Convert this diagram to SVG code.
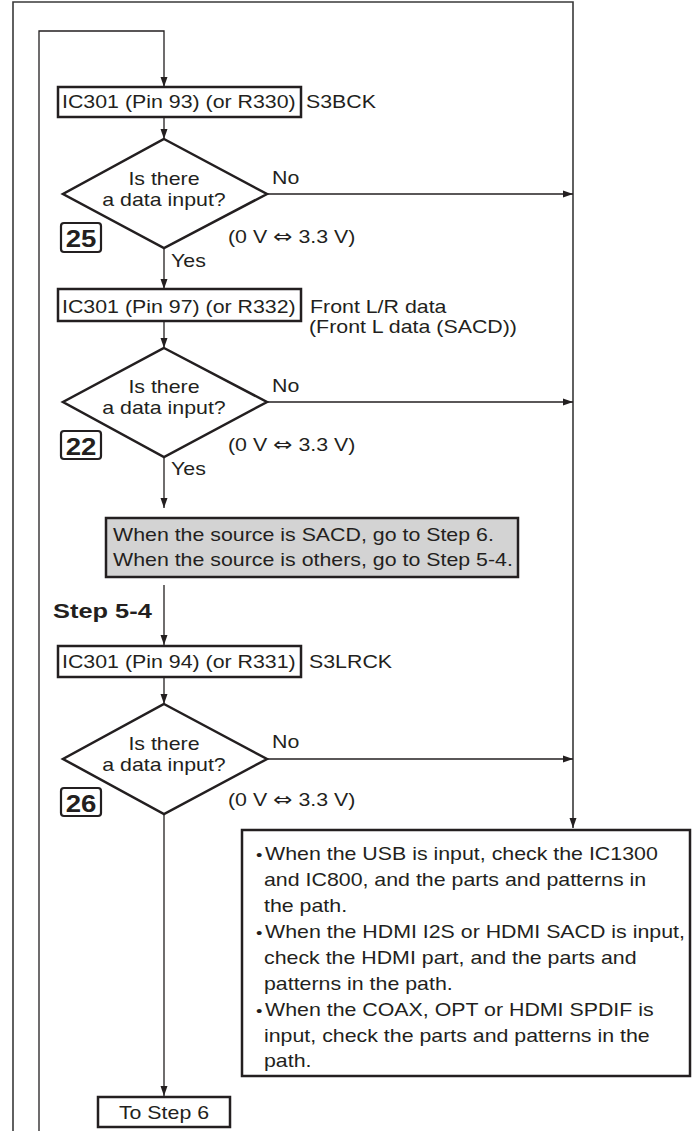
<svg xmlns="http://www.w3.org/2000/svg" width="697" height="1131" viewBox="0 0 697 1131">
<style>
.t{font-family:"Liberation Sans",Arial,sans-serif;font-size:17.5px;fill:#231f20}
.m{text-anchor:middle}
.b{font-weight:bold}
.sym{font-family:"DejaVu Sans",sans-serif;font-size:19px}
.bul{font-size:15px}
.n{font-family:"Liberation Sans",Arial,sans-serif;font-size:23px;font-weight:bold;fill:#231f20;text-anchor:middle}
.box{fill:#fff;stroke:#231f20;stroke-width:2.5}
.gray{fill:#d3d3d3;stroke:#231f20;stroke-width:2.5}
.dia{fill:#fff;stroke:#231f20;stroke-width:2.5;stroke-linejoin:miter}
.nb{fill:#fff;stroke:#231f20;stroke-width:2.2}
.c{fill:none;stroke:#231f20;stroke-width:1.3}
.fr{fill:none;stroke:#3a3a3a;stroke-width:1.6}
</style>
<defs>
<marker id="ah" markerUnits="userSpaceOnUse" markerWidth="11" markerHeight="8" refX="10" refY="4" orient="auto">
<path d="M0,0.5 L10,4 L0,7.5 z" fill="#231f20"/>
</marker>
</defs>

<g id="connectors">
<path class="fr" d="M13,1131 V2 H573 V828" marker-end="url(#ah)"/>
<path class="c" d="M39,1131 V31 H164 V87" marker-end="url(#ah)"/>
<path class="c" d="M164,117 V139" marker-end="url(#ah)"/>
<path class="c" d="M267,194 H573" marker-end="url(#ah)"/>
<path class="c" d="M164,248 V289" marker-end="url(#ah)"/>
<path class="c" d="M164,321 V348" marker-end="url(#ah)"/>
<path class="c" d="M267,402 H573" marker-end="url(#ah)"/>
<path class="c" d="M164,457 V508" marker-end="url(#ah)"/>
<path class="c" d="M164,585 V645" marker-end="url(#ah)"/>
<path class="c" d="M164,677 V704" marker-end="url(#ah)"/>
<path class="c" d="M267,759 H573" marker-end="url(#ah)"/>
<path class="c" d="M164,814 V1096" marker-end="url(#ah)"/>
</g>

<g id="box1">
<rect class="box" x="58" y="87" width="243" height="30"/>
<text class="t" transform="translate(62 108) scale(1.22 1)">IC301 (Pin 93) (or R330)</text>
<text class="t" transform="translate(306 108) scale(1.22 1)">S3BCK</text>
</g>

<g id="dec1">
<polygon class="dia" points="164,139 267,194 164,248 63,194"/>
<text class="t m" transform="translate(164 185) scale(1.22 1)">Is there</text>
<text class="t m" transform="translate(164 206) scale(1.22 1)">a data input?</text>
<text class="t" transform="translate(272 184) scale(1.22 1)">No</text>
<text class="t" transform="translate(228 243) scale(1.22 1)">(0 V <tspan class="sym">⇔</tspan> 3.3 V)</text>
<text class="t" transform="translate(171 267) scale(1.22 1)">Yes</text>
<rect class="nb" x="61" y="223" width="40" height="29" rx="3"/>
<text class="n" transform="translate(81 247) scale(1.2 1)">25</text>
</g>

<g id="box2">
<rect class="box" x="58" y="289" width="243" height="32"/>
<text class="t" transform="translate(62 313) scale(1.22 1)">IC301 (Pin 97) (or R332)</text>
<text class="t" transform="translate(310 313) scale(1.22 1)">Front L/R data</text>
<text class="t" transform="translate(309 333) scale(1.22 1)">(Front L data (SACD))</text>
</g>

<g id="dec2">
<polygon class="dia" points="164,348 267,402 164,457 63,402"/>
<text class="t m" transform="translate(164 393) scale(1.22 1)">Is there</text>
<text class="t m" transform="translate(164 414) scale(1.22 1)">a data input?</text>
<text class="t" transform="translate(272 392) scale(1.22 1)">No</text>
<text class="t" transform="translate(228 451) scale(1.22 1)">(0 V <tspan class="sym">⇔</tspan> 3.3 V)</text>
<text class="t" transform="translate(171 475) scale(1.22 1)">Yes</text>
<rect class="nb" x="61" y="431" width="40" height="28" rx="3"/>
<text class="n" transform="translate(81 455) scale(1.2 1)">22</text>
</g>

<g id="note">
<rect class="gray" x="106" y="518" width="412" height="59"/>
<text class="t" transform="translate(113 541) scale(1.22 1)">When the source is SACD, go to Step 6.</text>
<text class="t" transform="translate(113 566) scale(1.22 1)">When the source is others, go to Step 5-4.</text>
</g>

<g id="step54">
<text class="t b" style="font-size:20px" transform="translate(53 618) scale(1.27 1)">Step 5-4</text>
</g>

<g id="box3">
<rect class="box" x="58" y="646" width="243" height="31"/>
<text class="t" transform="translate(62 668) scale(1.22 1)">IC301 (Pin 94) (or R331)</text>
<text class="t" transform="translate(309 668) scale(1.22 1)">S3LRCK</text>
</g>

<g id="dec3">
<polygon class="dia" points="164,704 267,759 164,814 63,759"/>
<text class="t m" transform="translate(164 750) scale(1.22 1)">Is there</text>
<text class="t m" transform="translate(164 771) scale(1.22 1)">a data input?</text>
<text class="t" transform="translate(272 748) scale(1.22 1)">No</text>
<text class="t" transform="translate(228 806) scale(1.22 1)">(0 V <tspan class="sym">⇔</tspan> 3.3 V)</text>
<rect class="nb" x="61" y="788" width="40" height="28" rx="3"/>
<text class="n" transform="translate(81 812) scale(1.2 1)">26</text>
</g>

<g id="check">
<rect class="box" x="242" y="830" width="448" height="246"/>
<text class="t" transform="translate(256 860) scale(1.22 1)"><tspan x="0" class="bul">•</tspan><tspan x="7.4">When the USB is input, check the IC1300</tspan></text>
<text class="t" transform="translate(264 886) scale(1.22 1)">and IC800, and the parts and patterns in</text>
<text class="t" transform="translate(264 912) scale(1.22 1)">the path.</text>
<text class="t" transform="translate(256 938) scale(1.22 1)"><tspan x="0" class="bul">•</tspan><tspan x="7.4">When the HDMI I2S or HDMI SACD is input,</tspan></text>
<text class="t" transform="translate(264 964) scale(1.22 1)">check the HDMI part, and the parts and</text>
<text class="t" transform="translate(264 990) scale(1.22 1)">patterns in the path.</text>
<text class="t" transform="translate(256 1016) scale(1.22 1)"><tspan x="0" class="bul">•</tspan><tspan x="7.4">When the COAX, OPT or HDMI SPDIF is</tspan></text>
<text class="t" transform="translate(264 1042) scale(1.22 1)">input, check the parts and patterns in the</text>
<text class="t" transform="translate(264 1067) scale(1.22 1)">path.</text>
</g>

<g id="tostep6">
<rect class="box" x="98" y="1097" width="132" height="30"/>
<text class="t m" transform="translate(164 1119) scale(1.22 1)">To Step 6</text>
</g>
</svg>
